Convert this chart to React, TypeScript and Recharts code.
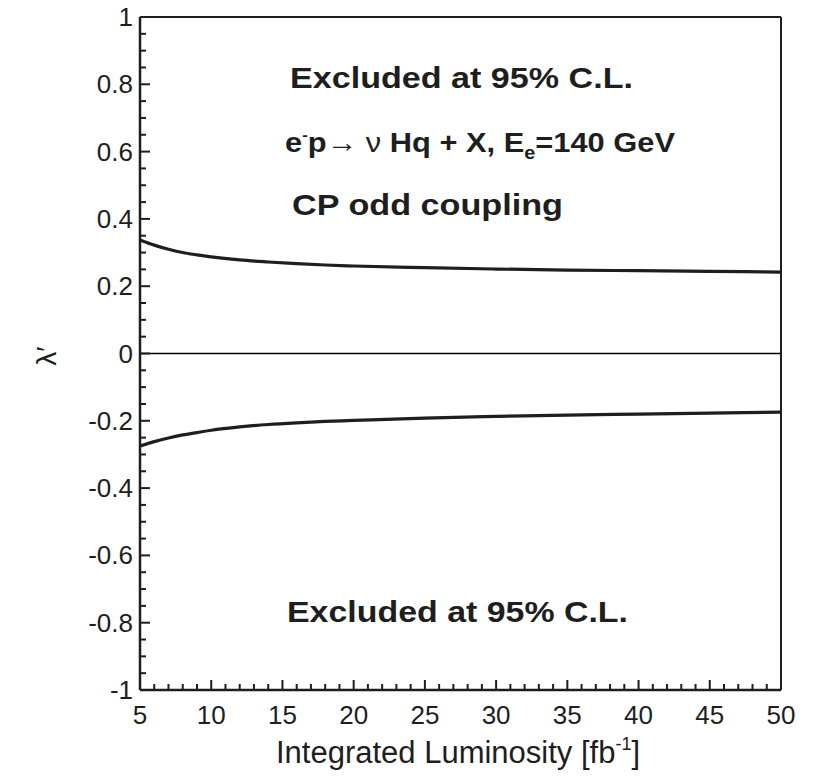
import React from 'react';
import { LineChart, Line, XAxis, YAxis, ReferenceLine } from 'recharts';

const luminosity = [5, 6, 7, 8, 9, 10, 12, 14, 16, 18, 20, 25, 30, 35, 40, 45, 50];
const upperBound = [0.337, 0.322, 0.31, 0.3, 0.293, 0.287, 0.278, 0.272, 0.267, 0.263, 0.26, 0.255, 0.251, 0.248, 0.246, 0.244, 0.242];
const lowerBound = [-0.275, -0.262, -0.251, -0.242, -0.235, -0.228, -0.218, -0.211, -0.206, -0.202, -0.199, -0.192, -0.187, -0.183, -0.18, -0.177, -0.174];

const xMajorTicks = [5, 10, 15, 20, 25, 30, 35, 40, 45, 50];
const xAllTicks = [
  5, 6, 7, 8, 9, 10, 11, 12, 13, 14, 15, 16, 17, 18, 19, 20, 21, 22, 23, 24, 25, 26, 27, 28, 29, 30,
  31, 32, 33, 34, 35, 36, 37, 38, 39, 40, 41, 42, 43, 44, 45, 46, 47, 48, 49, 50,
];
const yMajorTicks = [-1, -0.8, -0.6, -0.4, -0.2, 0, 0.2, 0.4, 0.6, 0.8, 1];
const yMajorLabels = ['-1', '-0.8', '-0.6', '-0.4', '-0.2', '0', '0.2', '0.4', '0.6', '0.8', '1'];
const yAllTicks = [
  -1, -0.95, -0.9, -0.85, -0.8, -0.75, -0.7, -0.65, -0.6, -0.55, -0.5, -0.45, -0.4, -0.35, -0.3, -0.25,
  -0.2, -0.15, -0.1, -0.05, 0, 0.05, 0.1, 0.15, 0.2, 0.25, 0.3, 0.35, 0.4, 0.45, 0.5, 0.55, 0.6, 0.65,
  0.7, 0.75, 0.8, 0.85, 0.9, 0.95, 1,
];

const data = luminosity.map((x, i) => ({ x, upper: upperBound[i], lower: lowerBound[i] }));

const INK = '#1e1e1e';
const FONT = '"Liberation Sans", Arial, Helvetica, sans-serif';

const isMajor = (v: number, majors: number[]) => majors.some((m) => Math.abs(m - v) < 1e-6);

const YTick = (props: any) => {
  const { x, y, payload } = props;
  const v = payload.value as number;
  const major = isMajor(v, yMajorTicks);
  const idx = yMajorTicks.findIndex((m) => Math.abs(m - v) < 1e-6);
  return (
    <g>
      <line x1={x} y1={y} x2={x + (major ? 10 : 6)} y2={y} stroke={INK} strokeWidth={2} />
      {major && (
        <text x={x - 7} y={y + 9} textAnchor="end" fontFamily={FONT} fontSize={26} fill={INK}>
          {yMajorLabels[idx]}
        </text>
      )}
    </g>
  );
};

const XTick = (props: any) => {
  const { x, y, payload } = props;
  const v = payload.value as number;
  const major = isMajor(v, xMajorTicks);
  return (
    <g>
      <line x1={x} y1={y} x2={x} y2={y - (major ? 10 : 6)} stroke={INK} strokeWidth={2} />
      {major && (
        <text x={x} y={y + 34} textAnchor="middle" fontFamily={FONT} fontSize={26} fill={INK}>
          {String(v)}
        </text>
      )}
    </g>
  );
};

export default function App() {
  return (
    <div style={{ position: 'absolute', left: 0, top: 0, width: 817, height: 778, background: '#fff' }}>
      <LineChart
        width={817}
        height={778}
        data={data}
        margin={{ top: 17, right: 36, bottom: 38, left: 80 }}
      >
        <XAxis
          dataKey="x"
          type="number"
          domain={[5, 50]}
          ticks={xAllTicks}
          interval={0}
          allowDataOverflow
          height={50}
          tickSize={0}
          tickMargin={0}
          tickLine={false}
          axisLine={{ stroke: INK, strokeWidth: 2.5 }}
          tick={<XTick />}
        />
        <YAxis
          type="number"
          domain={[-1, 1]}
          ticks={yAllTicks}
          interval={0}
          allowDataOverflow
          width={60}
          tickSize={0}
          tickMargin={0}
          tickLine={false}
          axisLine={{ stroke: INK, strokeWidth: 2.5 }}
          tick={<YTick />}
        />
        <ReferenceLine y={1} stroke={INK} strokeWidth={2} ifOverflow="visible" />
        <ReferenceLine x={50} stroke={INK} strokeWidth={2} ifOverflow="visible" />
        <ReferenceLine y={0} stroke="#000" strokeWidth={1.6} />
        <Line type="monotone" dataKey="upper" stroke={INK} strokeWidth={3.2} dot={false} isAnimationActive={false} />
        <Line type="monotone" dataKey="lower" stroke={INK} strokeWidth={3.2} dot={false} isAnimationActive={false} />
      </LineChart>
      <svg
        width={817}
        height={778}
        style={{ position: 'absolute', left: 0, top: 0, pointerEvents: 'none' }}
      >
        <g fontFamily={FONT} fill={INK} fontWeight="bold">
          <text x={290} y={88} fontSize={30} textLength={343} lengthAdjust="spacingAndGlyphs">
            Excluded at 95% C.L.
          </text>
          <text x={285} y={152} fontSize={28} textLength={390} lengthAdjust="spacingAndGlyphs">
            e<tspan fontSize={15} dy={-12}>-</tspan>
            <tspan dy={12}>p</tspan>
            <tspan fontWeight="normal">→ ν</tspan> Hq + X, E
            <tspan fontSize={18} dy={7}>e</tspan>
            <tspan dy={-7}>=140 GeV</tspan>
          </text>
          <text x={292} y={215} fontSize={30} textLength={271} lengthAdjust="spacingAndGlyphs">
            CP odd coupling
          </text>
          <text x={287} y={622} fontSize={30} textLength={341} lengthAdjust="spacingAndGlyphs">
            Excluded at 95% C.L.
          </text>
        </g>
        <text x={458} y={763} textAnchor="middle" fontFamily={FONT} fontSize={31} fill={INK}>
          Integrated Luminosity [fb<tspan fontSize={18} dy={-13}>-1</tspan>
          <tspan dy={13}>]</tspan>
        </text>
        <text
          x={0}
          y={0}
          transform="translate(56,356) rotate(-90)"
          textAnchor="middle"
          fontFamily={FONT}
          fontSize={28}
          fill={INK}
        >
          λ′
        </text>
      </svg>
    </div>
  );
}
